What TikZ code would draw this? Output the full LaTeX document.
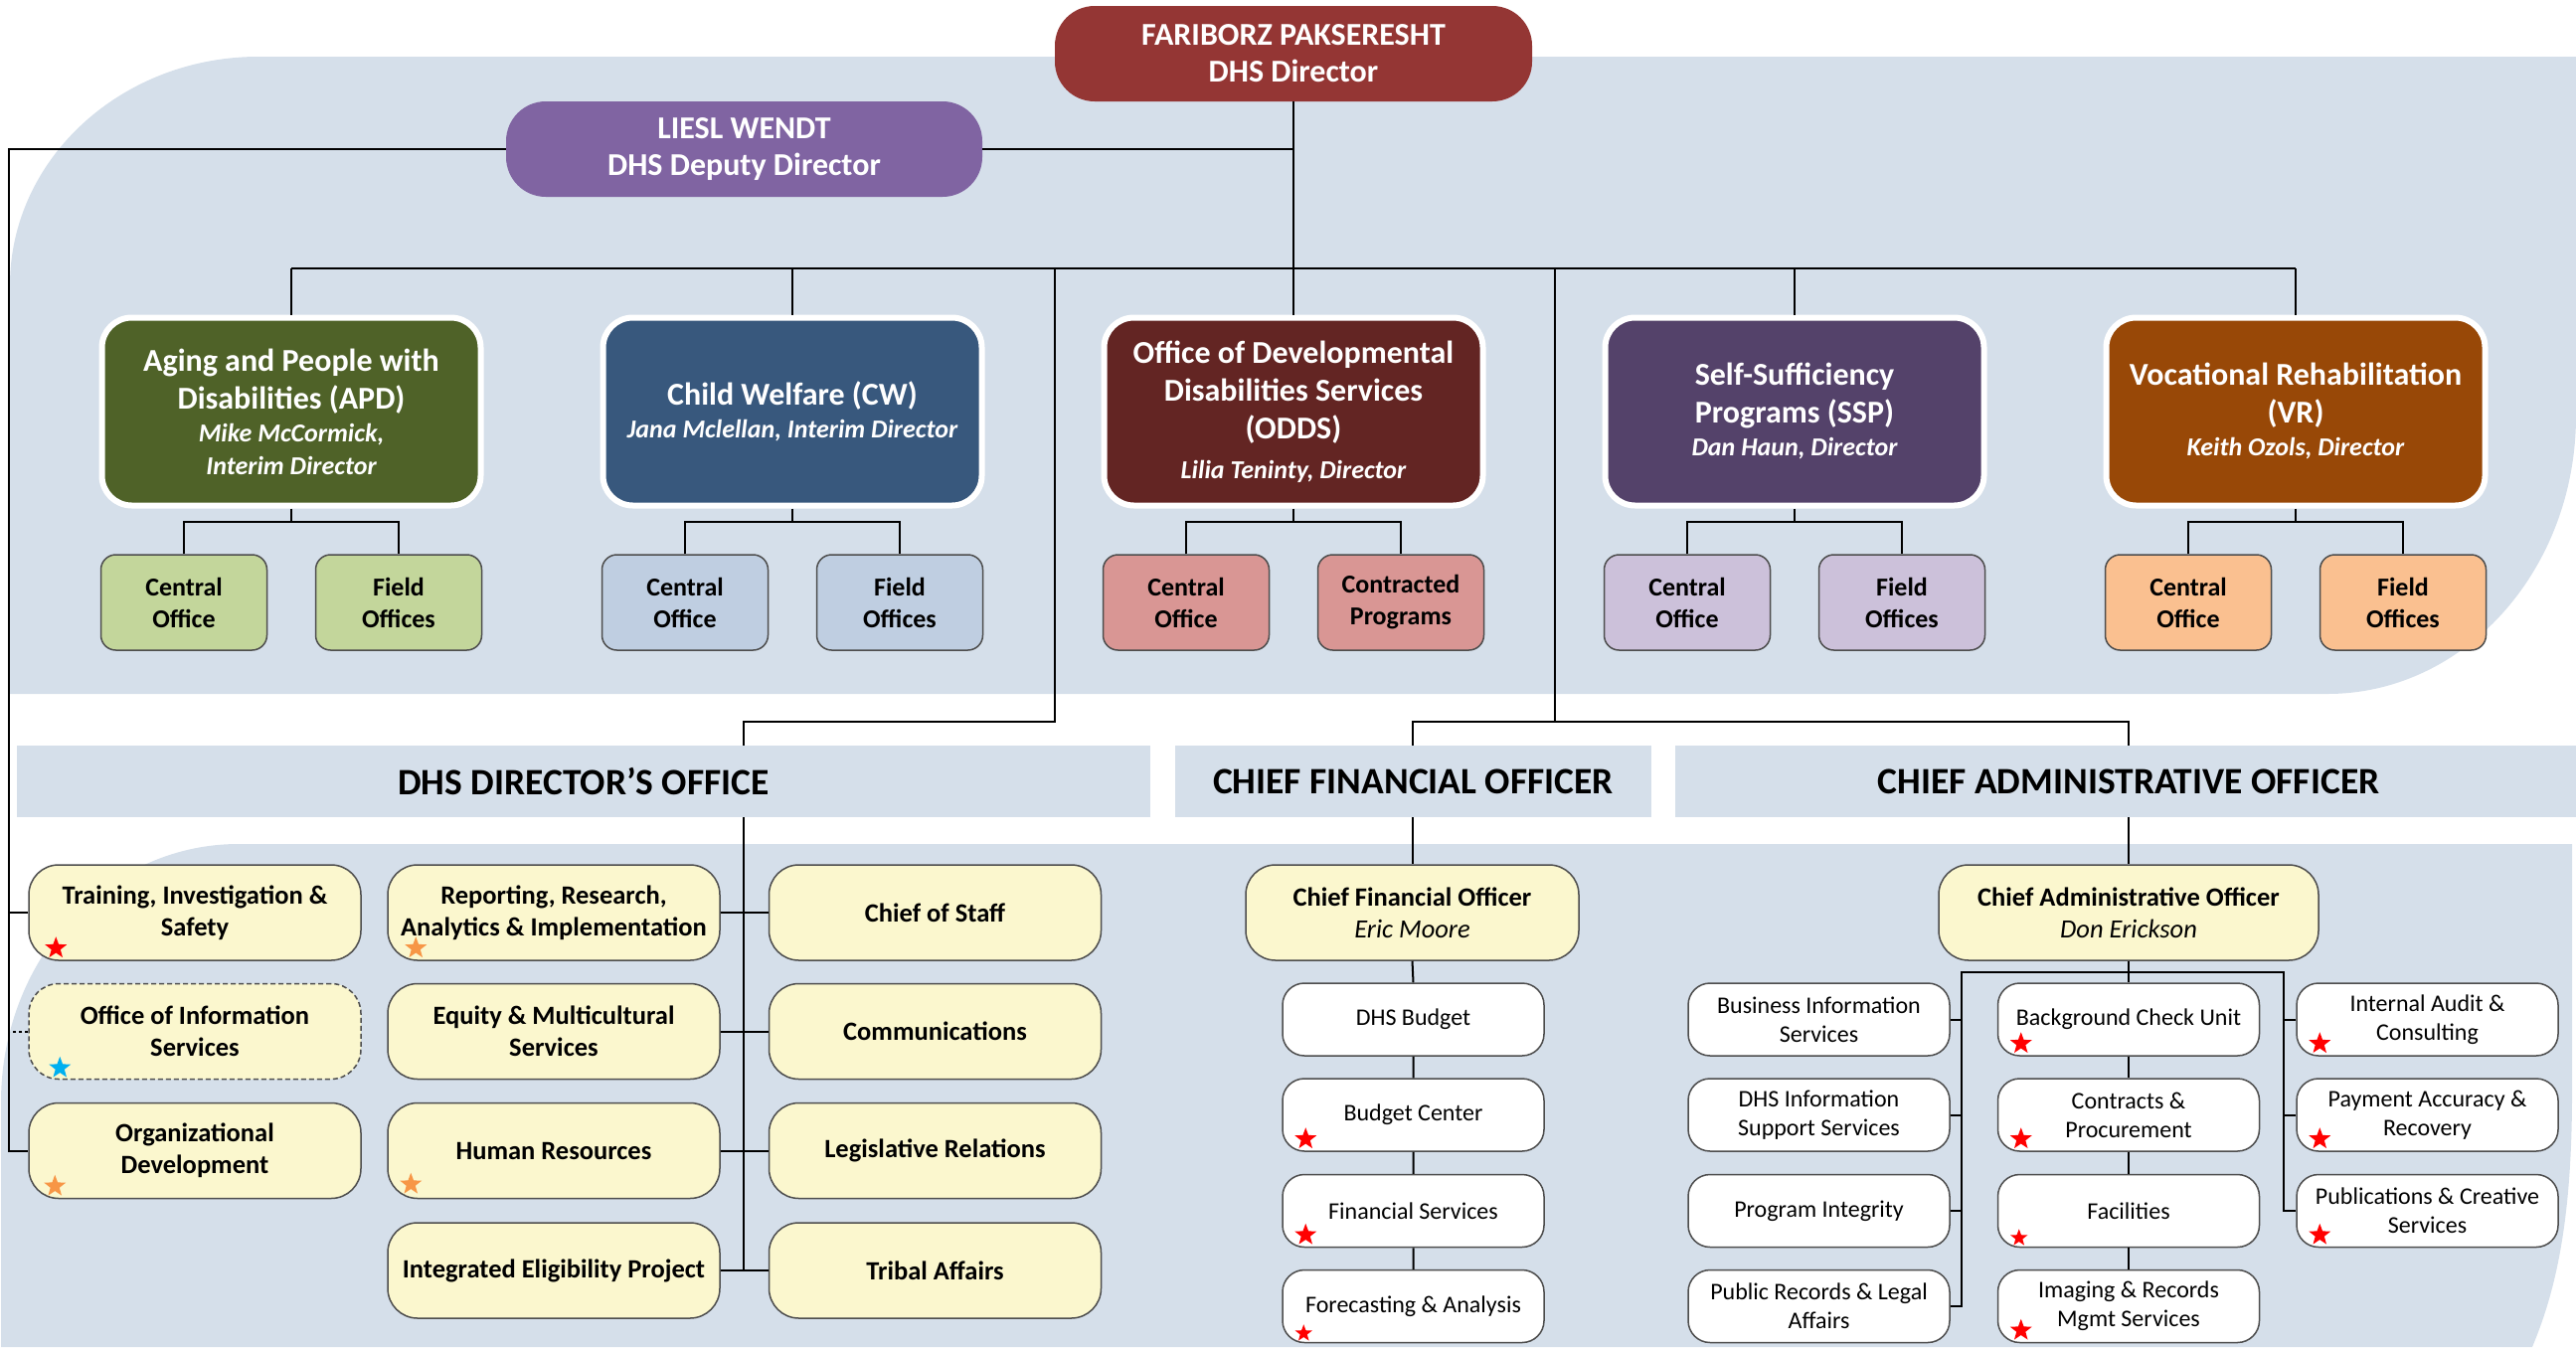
\documentclass[tikz,border=0pt]{standalone}
\usepackage{fontspec}
\setmainfont{Carlito}
\usetikzlibrary{shapes.geometric}
\definecolor{bgblue}{HTML}{D5DFEA}
\definecolor{dirred}{HTML}{943634}
\definecolor{deppurp}{HTML}{8064A2}
\definecolor{apdc}{HTML}{4F6228}
\definecolor{cwc}{HTML}{38587D}
\definecolor{oddsc}{HTML}{632523}
\definecolor{sspc}{HTML}{54426A}
\definecolor{vrc}{HTML}{984807}
\definecolor{apdl}{HTML}{C3D69B}
\definecolor{cwl}{HTML}{BFCEE1}
\definecolor{oddsl}{HTML}{D99694}
\definecolor{sspl}{HTML}{CCC1DA}
\definecolor{vrl}{HTML}{FAC090}
\definecolor{yel}{HTML}{FBF7CE}
\definecolor{edgegray}{HTML}{4D4D4D}
\definecolor{starorange}{HTML}{F79646}
\definecolor{starblue}{HTML}{00B0F0}
\newcommand{\fsz}[2]{\fontsize{#1}{#2}\selectfont}
\newcommand{\fixsp}{\spaceskip=\fontdimen2\font\relax\xspaceskip=\fontdimen2\font\relax}
\newcommand{\divt}[1]{{\fsz{32}{38}\bfseries\fixsp #1\par}}
\newcommand{\divn}[2][33]{{\fsz{26}{#1}\bfseries\itshape\fixsp #2\par}}
\begin{document}
\begin{tikzpicture}[x=1pt,y=-1pt,
  conn/.style={line width=2pt, draw=black},
  topbox/.style={rounded corners=40pt, minimum width=480pt, minimum height=96pt, inner sep=0pt, text=white, align=center, font=\fsz{32}{37}\bfseries},
  divbox/.style={rounded corners=30pt, draw=white, line width=6pt, minimum width=381pt, minimum height=189pt, inner sep=0pt, text width=374pt, align=center, text=white},
  kidbox/.style={rounded corners=15pt, draw=edgegray, line width=1.5pt, minimum width=167pt, minimum height=96pt, inner sep=0pt, align=center, font=\fsz{26}{32}\bfseries},
  ybox/.style={rounded corners=30pt, fill=yel, draw=edgegray, line width=1.5pt, minimum width=334pt, minimum height=96pt, inner sep=0pt, align=center, font=\fsz{26.5}{32}\bfseries},
  sbox/.style={rounded corners=22pt, fill=white, draw=edgegray, line width=1.5pt, minimum width=263pt, minimum height=73pt, inner sep=0pt, align=center, font=\fsz{24}{29}},
  hbar/.style={fill=bgblue, inner sep=0pt, minimum height=72pt, font=\fsz{37.5}{44}\bfseries},
  rstar/.style={star, star points=5, star point ratio=2.4, fill=red, draw=none, inner sep=0pt, minimum size=23pt},
]
\useasboundingbox (0,0) rectangle (2591,1355);
% background regions
\fill[bgblue] (10,287) .. controls (10,160) and (122,57) .. (260,57) -- (2591,57) -- (2591,418) .. controls (2591,573) and (2479,698) .. (2341,698) -- (10,698) -- cycle;
\fill[bgblue] (1,1109) .. controls (1,965) and (107,849) .. (240,849) -- (2587,849) -- (2587,1100) .. controls (2587,1230) and (2570,1300) .. (2547,1355) -- (1,1355) -- cycle;

% header bars
\node[hbar, minimum width=1140pt] (barD) at (587,786) {DHS DIRECTOR’S OFFICE};
\node[hbar, minimum width=479pt] (barF) at (1421.5,786) {CHIEF FINANCIAL OFFICER};
\node[hbar, minimum width=912pt] (barA) at (2141,786) {CHIEF ADMINISTRATIVE OFFICER};

% top
\node[topbox, fill=dirred] (dir) at (1301,54) {FARIBORZ PAKSERESHT\\DHS Director};
\node[topbox, fill=deppurp, minimum width=479pt] (dep) at (748.5,150) {LIESL WENDT\\DHS Deputy Director};

% divisions
\node[divbox, fill=apdc] (apd) at (293,414) {\divt{Aging and People with\\Disabilities (APD)}\divn{Mike McCormick,\\Interim Director}};
\node[divbox, fill=cwc] (cw) at (797,414) {\divt{Child Welfare (CW)}\divn{Jana Mclellan, Interim Director}};
\node[divbox, fill=oddsc] (odds) at (1301,414) {\divt{Office of Developmental\\Disabilities Services\\(ODDS)}\divn[40]{Lilia Teninty, Director}};
\node[divbox, fill=sspc] (ssp) at (1805,414) {\divt{Self-Sufficiency\\Programs (SSP)}\divn{Dan Haun, Director}};
\node[divbox, fill=vrc] (vr) at (2309,414) {\divt{Vocational Rehabilitation\\(VR)}\divn{Keith Ozols, Director}};

% division children
\node[kidbox, fill=apdl] (apd1) at (185,606) {Central\\Office};
\node[kidbox, fill=apdl] (apd2) at (401,606) {Field\\Offices};
\node[kidbox, fill=cwl] (cw1) at (689,606) {Central\\Office};
\node[kidbox, fill=cwl] (cw2) at (905,606) {Field\\Offices};
\node[kidbox, fill=oddsl] (odds1) at (1193,606) {Central\\Office};
\node[kidbox, fill=oddsl] (odds2) at (1409,606) {Contracted\\Programs};
\node[kidbox, fill=sspl] (ssp1) at (1697,606) {Central\\Office};
\node[kidbox, fill=sspl] (ssp2) at (1913,606) {Field\\Offices};
\node[kidbox, fill=vrl] (vr1) at (2201,606) {Central\\Office};
\node[kidbox, fill=vrl] (vr2) at (2417,606) {Field\\Offices};

% director's office
\node[ybox] (tis) at (196,918) {Training, Investigation \&\\Safety};
\node[ybox, dash pattern=on 5pt off 3pt] (ois) at (196,1037.5) {Office of Information\\Services};
\node[ybox] (od) at (196,1157.5) {Organizational\\Development};
\node[ybox] (rrai) at (557,918) {Reporting, Research,\\Analytics \& Implementation};
\node[ybox] (ems) at (557,1037.5) {Equity \& Multicultural\\Services};
\node[ybox] (hr) at (557,1157.5) {Human Resources};
\node[ybox] (iep) at (557,1278) {Integrated Eligibility Project};
\node[ybox] (cos) at (940.5,918) {Chief of Staff};
\node[ybox] (com) at (940.5,1037.5) {Communications};
\node[ybox] (lr) at (940.5,1157.5) {Legislative Relations};
\node[ybox] (ta) at (940.5,1278) {Tribal Affairs};

% CFO
\node[ybox, minimum width=335pt] (cfo) at (1420.5,918) {Chief Financial Officer\\{\mdseries\itshape Eric Moore}};
\node[sbox] (bud) at (1421.5,1025.5) {DHS Budget};
\node[sbox] (bc) at (1421.5,1121.5) {Budget Center};
\node[sbox] (fs) at (1421.5,1218) {Financial Services};
\node[sbox] (fa) at (1421.5,1314) {Forecasting \& Analysis};

% CAO
\node[ybox, minimum width=382pt] (cao) at (2141,918) {Chief Administrative Officer\\{\mdseries\itshape Don Erickson}};
\node[sbox] (bis) at (1829.5,1025.5) {Business Information\\Services};
\node[sbox] (dis) at (1829.5,1121.5) {DHS Information\\Support Services};
\node[sbox] (pi) at (1829.5,1218) {Program Integrity};
\node[sbox] (prl) at (1829.5,1314) {Public Records \& Legal\\Affairs};
\node[sbox] (bcu) at (2141,1025.5) {Background Check Unit};
\node[sbox] (cp) at (2141,1121.5) {Contracts \&\\Procurement};
\node[sbox] (fac) at (2141,1218) {Facilities};
\node[sbox] (irm) at (2141,1314) {Imaging \& Records\\Mgmt Services};
\node[sbox] (iac) at (2441.5,1025.5) {Internal Audit \&\\Consulting};
\node[sbox] (par) at (2441.5,1121.5) {Payment Accuracy \&\\Recovery};
\node[sbox] (pcs) at (2441.5,1218) {Publications \& Creative\\Services};

% connectors: top
\coordinate (busL) at (293,270);
\coordinate (busR) at (2309,270);
\draw[conn] (dir.south) -- (odds.north);
\draw[conn] (busL) -- (busR);
\foreach \d in {apd,cw,ssp,vr} \draw[conn] (\d.north) -- (\d.north |- busL);
\draw[conn] (dep.east) -- (dep.east -| dir.south);
\foreach \d in {apd,cw,odds,ssp,vr}
  \draw[conn] (\d.south) -- ++(0,13) coordinate (j\d) (\d1.north) |- (j\d) -| (\d2.north);

% connectors: director's office
\coordinate (L) at (9,150);
\draw[conn] (dep.west) -- (L) |- (od.west);
\draw[conn] (tis.west) -- (tis.west -| L);
\draw[line width=2pt, dash pattern=on 3pt off 3pt] (ois.west) -- (ois.west -| L);
\coordinate (v1) at (1061,270);
\coordinate (v2) at (1564,270);
\coordinate (dJ) at (748,726);
\coordinate (fJ) at (1421,726);
\coordinate (aJ) at (2141,726);
\draw[conn] (v1) |- (dJ) -- (dJ |- barD.north);
\draw[conn] (dJ |- barD.south) -- (dJ |- ta.west);
\draw[conn] (rrai.east) -- (cos.west);
\draw[conn] (ems.east) -- (com.west);
\draw[conn] (hr.east) -- (lr.west);
\draw[conn] (iep.east) -- (ta.west);

% connectors: CFO / CAO
\draw[conn] (v2) -- (v2 |- fJ);
\draw[conn] (fJ |- barF.north) -- (fJ) -- (aJ) -- (aJ |- barA.north);
\draw[conn] (cfo.north |- barF.south) -- (cfo.north);
\draw[conn] (cao.north |- barA.south) -- (cao.north);
\draw[conn] (cfo.south) -- (bud.north) (bud.south) -- (bc.north) (bc.south) -- (fs.north) (fs.south) -- (fa.north);
\draw[conn] (cao.south) -- (bcu.north) (bcu.south) -- (cp.north) (cp.south) -- (fac.north) (fac.south) -- (irm.north);
\coordinate (aL) at (1973,978);
\coordinate (aR) at (2297,978);
\draw[conn] (prl.east) -| (aL) -- (aR) |- (pcs.west);
\foreach \n in {bis,dis,pi} \draw[conn] (\n.east) -- (\n.east -| aL);
\foreach \n in {iac,par} \draw[conn] (\n.west) -- (\n.west -| aR);

% stars
\node[rstar] at ([shift={(28,-13)}]tis.south west) {};
\node[rstar, fill=starblue] at ([shift={(32,-12)}]ois.south west) {};
\node[rstar, fill=starorange] at ([shift={(27,-13)}]od.south west) {};
\node[rstar, fill=starorange] at ([shift={(29,-13)}]rrai.south west) {};
\node[rstar, fill=starorange] at ([shift={(24,-15)}]hr.south west) {};
\foreach \n in {bc,fs,bcu,cp,irm,iac,par,pcs}
  \node[rstar] at ([shift={(24,-13)}]\n.south west) {};
\node[rstar, minimum size=18pt] at ([shift={(22,-10)}]fa.south west) {};
\node[rstar, minimum size=18pt] at ([shift={(22,-10)}]fac.south west) {};
\end{tikzpicture}
\end{document}
